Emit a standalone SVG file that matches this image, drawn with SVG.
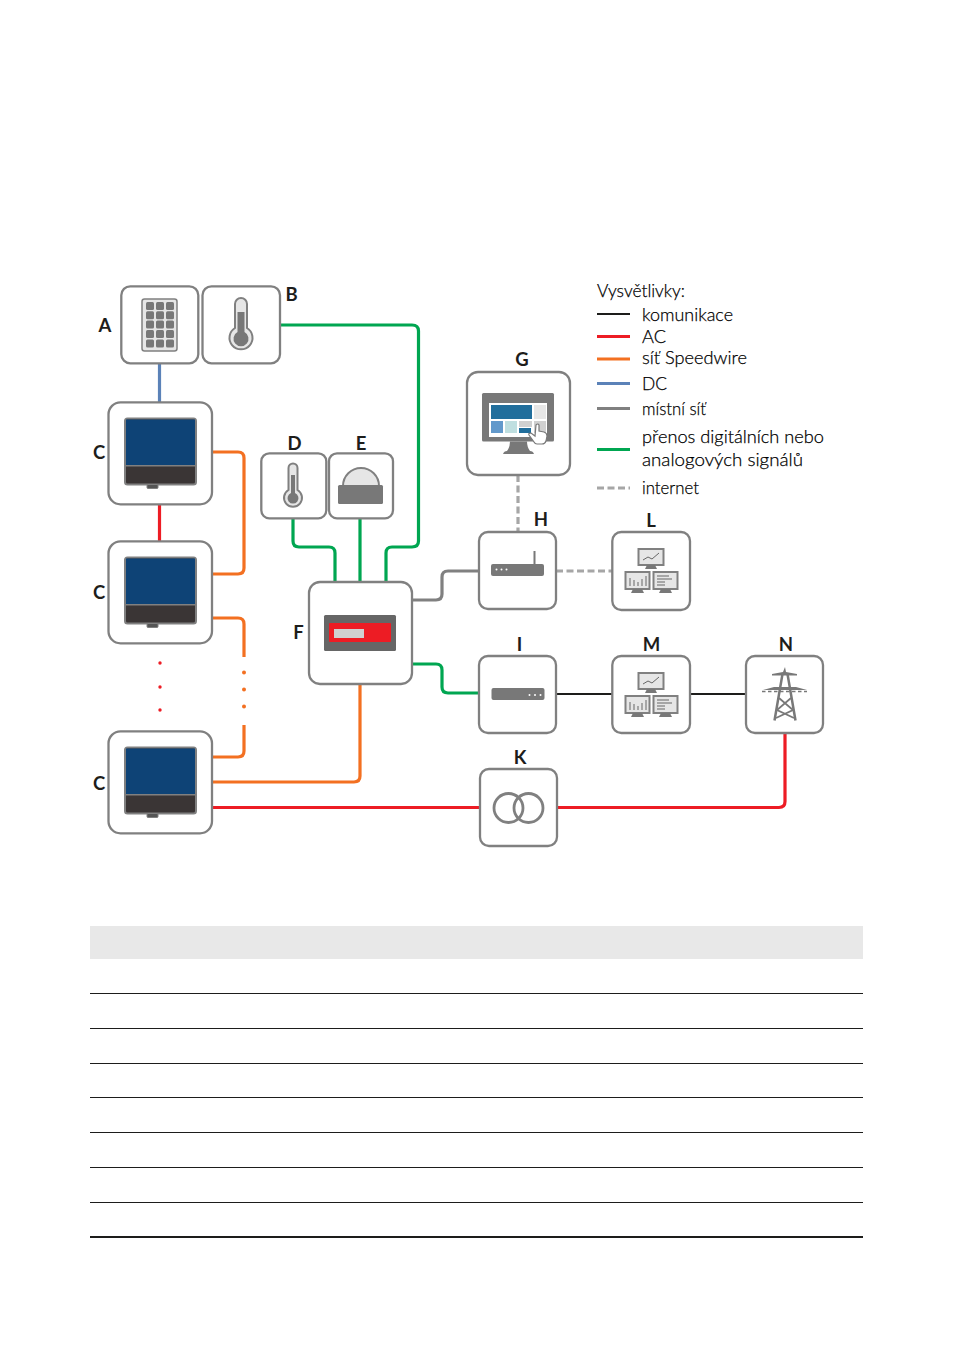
<svg xmlns="http://www.w3.org/2000/svg" xmlns:xlink="http://www.w3.org/1999/xlink" width="953" height="1352" viewBox="0 0 953 1352">
<style>
.box{fill:#fff;stroke:#808080;stroke-width:2.3}
.lab{font-family:"Lato","Liberation Sans",sans-serif;font-weight:700;font-size:18.5px;fill:#1d1d1b;text-anchor:middle}
.leg{font-family:"Lato","Liberation Sans",sans-serif;font-weight:300;font-size:18px;fill:#000;stroke:#000;stroke-width:0.25}
.c{fill:none;stroke-width:3.200;stroke-linejoin:round}
.g{stroke:#00a651}.o{stroke:#f37021}.r{stroke:#ed1c24}.b{stroke:#5b82b8}.y{stroke:#808080}.k{stroke:#1d1d1b;stroke-width:2}
.d{stroke:#a6a6a6;stroke-dasharray:7 3.5}
.ic{fill:#787878}.lt{fill:#e6e6e6}
.mon{fill:#e6e6e6;stroke:#808080;stroke-width:2}
.thin{fill:none;stroke:#666;stroke-width:1}
.rule{stroke:#1d1d1b;stroke-width:1}
</style>
<defs>
<g id="inv">
<rect x="0" y="0" width="71" height="66" rx="2.500" fill="#3a3535" stroke="#808080" stroke-width="2"/>
<rect x="1" y="1" width="69" height="45.500" fill="#0e4376"/>
<rect x="0" y="46.500" width="71" height="1.500" fill="#808080"/>
<rect x="22" y="66" width="11" height="4" rx="1" fill="#555" stroke="#808080" stroke-width="1"/>
</g>
<g id="mons">
<rect x="26.500" y="17" width="25" height="16" class="mon"/>
<path d="M31 28l5-3 4 2 7-6" class="thin"/>
<path d="M35 33h8l2 4h-12z" class="ic"/>
<rect x="13.500" y="40" width="24" height="17" class="mon"/>
<path d="M18 46v8M22 48v6M26 50v4M30 47v7M34 44v10" class="thin" stroke-width="1.300"/>
<path d="M21 57h9l2 4h-13z" class="ic"/>
<rect x="41.500" y="40" width="24" height="17" class="mon"/>
<path d="M45 44h12M45 47h15M45 50h8M45 53h8" class="thin"/>
<path d="M49 57h9l2 4h-13z" class="ic"/>
</g>
</defs>

<g id="connectors">
<path class="c b" d="M159.500 363V402"/>
<path class="c r" d="M159.500 504V541"/>
<path class="c o" d="M212 452H238Q244 452 244 458V568Q244 574 238 574H212"/>
<path class="c o" d="M212 618H238Q244 618 244 624V657"/>
<path class="c o" d="M244 725V751Q244 757 238 757H212"/>
<path class="c o" d="M212 782H354Q360 782 360 776V684"/>
<path class="c r" d="M212 807.500H480"/>
<path class="c r" d="M557 807.500H779Q785 807.500 785 801.500V733"/>
<path class="c g" d="M280 325H412Q418.500 325 418.500 331V541Q418.500 547 412 547H392Q386 547 386 553V582"/>
<path class="c g" d="M293 518V541Q293 547 299 547H329Q335 547 335 553V582"/>
<path class="c g" d="M360 518V582"/>
<path class="c g" d="M412 664H436Q442 664 442 670V687Q442 693 448 693H479"/>
<path class="c y" d="M412 600H436Q442 600 442 594V577Q442 571 448 571H479"/>
<path class="c k" d="M556 694H612"/>
<path class="c k" d="M690 694H746"/>
<path class="c d" d="M518 475V532"/>
<path class="c d" d="M556 571H612"/>
<g fill="#ed1c24"><circle cx="160" cy="663" r="1.700"/><circle cx="160" cy="687" r="1.700"/><circle cx="160" cy="710" r="1.700"/></g>
<g fill="#f37021"><circle cx="244" cy="672.500" r="2"/><circle cx="244" cy="689.500" r="2"/><circle cx="244" cy="706.500" r="2"/></g>
</g>

<g id="node-A">
<rect class="box" x="121.300" y="286.300" width="77" height="77" rx="9"/>
<rect x="142" y="299" width="35" height="52" rx="2.500" fill="#e6e6e6" stroke="#808080" stroke-width="1.500"/>
<g class="ic">
<rect x="146" y="302" width="8" height="8" rx="1.500"/><rect x="156" y="302" width="8" height="8" rx="1.500"/><rect x="166" y="302" width="8" height="8" rx="1.500"/>
<rect x="146" y="311.300" width="8" height="8" rx="1.500"/><rect x="156" y="311.300" width="8" height="8" rx="1.500"/><rect x="166" y="311.300" width="8" height="8" rx="1.500"/>
<rect x="146" y="320.600" width="8" height="8" rx="1.500"/><rect x="156" y="320.600" width="8" height="8" rx="1.500"/><rect x="166" y="320.600" width="8" height="8" rx="1.500"/>
<rect x="146" y="330" width="8" height="8" rx="1.500"/><rect x="156" y="330" width="8" height="8" rx="1.500"/><rect x="166" y="330" width="8" height="8" rx="1.500"/>
<rect x="146" y="339.500" width="8" height="8" rx="1.500"/><rect x="156" y="339.500" width="8" height="8" rx="1.500"/><rect x="166" y="339.500" width="8" height="8" rx="1.500"/>
</g>
<text class="lab" x="105" y="332">A</text>
</g>

<g id="node-B">
<rect class="box" x="202.500" y="286.300" width="77.500" height="77" rx="9"/>
<path d="M235 328V304a6 6 0 0 1 12 0V328a11.500 11.500 0 1 1-12 0z" fill="#e6e6e6" stroke="#808080" stroke-width="2"/>
<path d="M237.500 312h7V332a7.500 7.500 0 1 1-7 0z" class="ic"/>
<text class="lab" x="291.500" y="301">B</text>
</g>

<g id="node-C1">
<rect class="box" x="108.500" y="402.300" width="103.500" height="102" rx="12"/>
<use xlink:href="#inv" href="#inv" x="125" y="418.500"/>
<text class="lab" x="99" y="459">C</text>
</g>
<g id="node-C2">
<rect class="box" x="108.500" y="541.300" width="103.500" height="102" rx="12"/>
<use xlink:href="#inv" href="#inv" x="125" y="557.500"/>
<text class="lab" x="99" y="599">C</text>
</g>
<g id="node-C3">
<rect class="box" x="108.500" y="731.300" width="103.500" height="102" rx="12"/>
<use xlink:href="#inv" href="#inv" x="125" y="747.500"/>
<text class="lab" x="99" y="790">C</text>
</g>

<g id="node-D">
<rect class="box" x="261.300" y="453.300" width="65" height="65" rx="8"/>
<path d="M288.500 490V468a4.500 4.500 0 0 1 9 0V490a9 9 0 1 1-9 0z" fill="#e6e6e6" stroke="#808080" stroke-width="2"/>
<path d="M291 475h4V493a5.500 5.500 0 1 1-4 0z" class="ic"/>
<text class="lab" x="294.500" y="450">D</text>
</g>

<g id="node-E">
<rect class="box" x="329" y="453.300" width="64" height="65" rx="8"/>
<path d="M343 486a18 18 0 0 1 36 0z" fill="#e6e6e6" stroke="#808080" stroke-width="2"/>
<rect x="338" y="485" width="45" height="19" rx="1.500" class="ic"/>
<text class="lab" x="361" y="450">E</text>
</g>

<g id="node-F">
<rect class="box" x="309" y="582" width="103" height="102" rx="11"/>
<rect x="324" y="615" width="72" height="36" rx="1.500" fill="#666"/>
<rect x="329" y="623" width="62" height="19" rx="1" fill="#ed1c24"/>
<rect x="334" y="629" width="30" height="9" fill="#d0d0d0"/>
<text class="lab" x="298.500" y="639">F</text>
</g>

<g id="node-G">
<rect class="box" x="467" y="372" width="103" height="103" rx="11"/>
<rect x="482" y="393" width="72" height="48.500" rx="1.500" fill="#787878"/>
<rect x="489" y="403" width="58" height="34" fill="#fff"/>
<rect x="491" y="405" width="41" height="14" fill="#216e9c"/>
<rect x="534" y="405" width="12" height="14" fill="#e6e6e6"/>
<rect x="491" y="421" width="12" height="12" fill="#6299cb"/>
<rect x="505" y="421" width="12" height="12" fill="#bfdfe0"/>
<rect x="519" y="421" width="13" height="6" fill="#d0d0d0"/>
<rect x="519" y="428" width="12" height="5" fill="#216e9c"/>
<rect x="534" y="421" width="12" height="12" fill="#d0d0d0"/>
<path d="M503 454q1-3 4-3q3-4 3-9.500h17q0 5.500 3 9.500q3 0 4 3z" fill="#787878"/>
<path d="M536 425q2-2 3 0v6l5 1q3 1 3 4l-1 5q-1 3-4 3h-5q-2 0-3-2l-5-7q-1-2 2-2l4 3z" fill="#fff" stroke="#787878" stroke-width="1.200"/>
<text class="lab" x="522" y="366">G</text>
</g>

<g id="node-H">
<rect class="box" x="479" y="532" width="77" height="77" rx="9"/>
<rect x="533.500" y="551" width="2" height="14" fill="#787878"/>
<rect x="491" y="564" width="53" height="12" rx="2" fill="#787878"/>
<g fill="#fff"><circle cx="496.500" cy="569.500" r="1"/><circle cx="501.500" cy="569.500" r="1"/><circle cx="506.500" cy="569.500" r="1"/></g>
<text class="lab" x="541" y="526">H</text>
</g>

<g id="node-L">
<rect class="box" x="612.300" y="532" width="77.700" height="78" rx="9"/>
<use xlink:href="#mons" href="#mons" x="612" y="532"/>
<text class="lab" x="651" y="527">L</text>
</g>

<g id="node-I">
<rect class="box" x="479" y="656" width="77" height="77" rx="9"/>
<rect x="491.500" y="688" width="53" height="12" rx="2" fill="#787878"/>
<g fill="#fff"><circle cx="529.500" cy="695" r="1"/><circle cx="535" cy="695" r="1"/><circle cx="540.500" cy="695" r="1"/></g>
<text class="lab" x="519.500" y="651">I</text>
</g>

<g id="node-M">
<rect class="box" x="612.300" y="656" width="77.700" height="77" rx="9"/>
<use xlink:href="#mons" href="#mons" x="612" y="656"/>
<text class="lab" x="651.500" y="651">M</text>
</g>

<g id="node-N">
<rect class="box" x="746" y="656" width="77" height="77" rx="9"/>
<path d="M785 667l1 5 11 2v1.500h-25v-1.500l11-2z" class="ic"/>
<path d="M763 690l11-3h22l11 3z" class="ic"/>
<path d="M762 691.500H807" fill="none" stroke="#787878" stroke-width="1.500" stroke-dasharray="3.500 2.500"/>
<g fill="none" stroke="#787878">
<path d="M782.500 674L774.500 720.500M787.500 674L795.500 720.500" stroke-width="2.500"/>
<path d="M779 698L793 710L776 718M791 698L777 710L794 718" stroke-width="1.800"/>
</g>
<text class="lab" x="786" y="651">N</text>
</g>

<g id="node-K">
<rect class="box" x="480" y="769" width="77" height="77" rx="9"/>
<g fill="none" stroke="#808080" stroke-width="2.800"><circle cx="508.500" cy="808" r="14.500"/><circle cx="528.500" cy="808" r="14.500"/></g>
<text class="lab" x="520" y="763.500">K</text>
</g>

<g id="legend">
<text class="leg" x="597" y="297" textLength="88" lengthAdjust="spacingAndGlyphs">Vysvětlivky:</text>
<text class="leg" x="642" y="321" textLength="91" lengthAdjust="spacingAndGlyphs">komunikace</text>
<text class="leg" x="642" y="343" textLength="24" lengthAdjust="spacingAndGlyphs">AC</text>
<text class="leg" x="642" y="364" textLength="105" lengthAdjust="spacingAndGlyphs">síť Speedwire</text>
<text class="leg" x="642" y="390" textLength="25" lengthAdjust="spacingAndGlyphs">DC</text>
<text class="leg" x="642" y="415" textLength="64" lengthAdjust="spacingAndGlyphs">místní síť</text>
<text class="leg" x="642" y="443" textLength="182" lengthAdjust="spacingAndGlyphs">přenos digitálních nebo</text>
<text class="leg" x="642" y="466" textLength="161" lengthAdjust="spacingAndGlyphs">analogových signálů</text>
<text class="leg" x="642" y="494" textLength="57" lengthAdjust="spacingAndGlyphs">internet</text>
<path class="c k" d="M597 314H630"/>
<path class="c r" d="M597 336.500H630"/>
<path class="c o" d="M597 359H630"/>
<path class="c b" d="M597 383.500H630"/>
<path class="c y" d="M597 408.500H630"/>
<path class="c g" d="M597 449.500H630"/>
<path class="c d" d="M597 488H630" stroke-dasharray="9.500 2.500"/>
</g>

<g id="table">
<rect x="90" y="926" width="773" height="33" fill="#e8e8e8"/>
<path class="rule" d="M90 993.500H863M90 1028.500H863M90 1063.500H863M90 1097.500H863M90 1132.500H863M90 1167.500H863M90 1202.500H863"/>
<path d="M90 1237H863" stroke="#1d1d1b" stroke-width="2"/>
</g>
</svg>
